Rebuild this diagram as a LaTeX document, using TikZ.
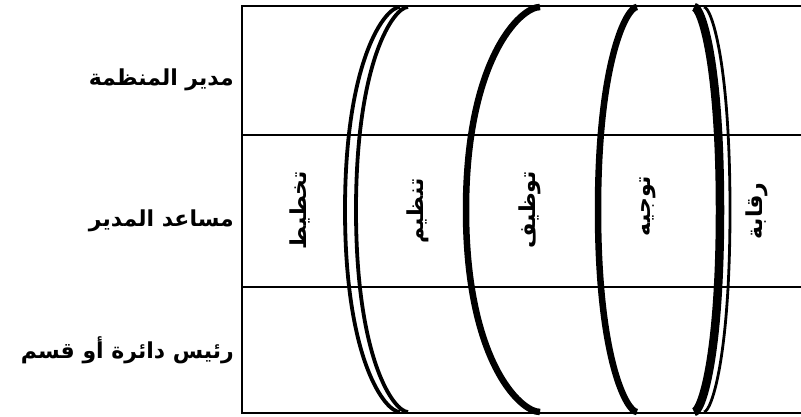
\documentclass[tikz,border=0pt]{standalone}
\usepackage{fontspec}
\newfontfamily\arabicfont[Script=Arabic]{DejaVu Sans}
\TeXXeTstate=1
\usetikzlibrary{positioning}

\begin{document}
\begin{tikzpicture}[x=1pt, y=-1pt,
    rowlabel/.style={anchor=base east, inner sep=0pt, font=\arabicfont\bfseries\fontsize{22}{26}\selectfont},
    task/.style={rotate=90, inner sep=0pt, font=\arabicfont\bfseries\fontsize{22}{26}\selectfont},
    frame/.style={line width=2.2pt}]
  \useasboundingbox (0,0) rectangle (801,417);
  % frame and levels
  \draw[frame] (801,6)--(242,6)--(242,413)--(801,413);
  \draw[frame] (242,135)--(801,135);
  \draw[frame] (242,287)--(801,287);
  % management levels
  \node[rowlabel] (top) at (234,86) {\beginR مدير المنظمة\endR};
  \node[rowlabel] (middle) at (234,226) {\beginR مساعد المدير\endR};
  \node[rowlabel] (lower) at (234,358) {\beginR رئيس دائرة أو قسم\endR};
  % functions
  \node[task] (plan) at (300,210) {\beginR تخطيط\endR};
  \node[task] (organize) at (418,211) {\beginR تنظيم\endR};
  \node[task] (staff) at (530,210) {\beginR توظيف\endR};
  \node[task] (direct) at (648,206) {\beginR توجيه\endR};
  \node[task] (control) at (757,211) {\beginR رقابة\endR};
  % planning | organizing
  \draw[line width=3.8pt] (400,7) .. controls (385,7) and (345,60) .. (345,210)
       .. controls (345,360) and (385,412) .. (400,412);
  \draw[line width=3.8pt] (408,7) .. controls (394,7) and (356,60) .. (356,210)
       .. controls (356,360) and (394,412) .. (408,412);
  % organizing | staffing
  \draw[line width=6.5pt] (540,7) .. controls (520,7) and (466,60) .. (466,210)
       .. controls (466,360) and (520,412) .. (540,412);
  % staffing | directing
  \draw[line width=6.5pt] (637,7) .. controls (627,7) and (598,60) .. (598,210)
       .. controls (598,360) and (627,412) .. (637,412);
  % directing | controlling
  \draw[line width=8.5pt] (694,7) .. controls (701,7) and (720,60) .. (720,210)
       .. controls (720,360) and (701,412) .. (694,412);
  \draw[line width=2.8pt] (704,7) .. controls (711,7) and (730,60) .. (730,210)
       .. controls (730,360) and (711,412) .. (704,412);
\end{tikzpicture}
\end{document}
